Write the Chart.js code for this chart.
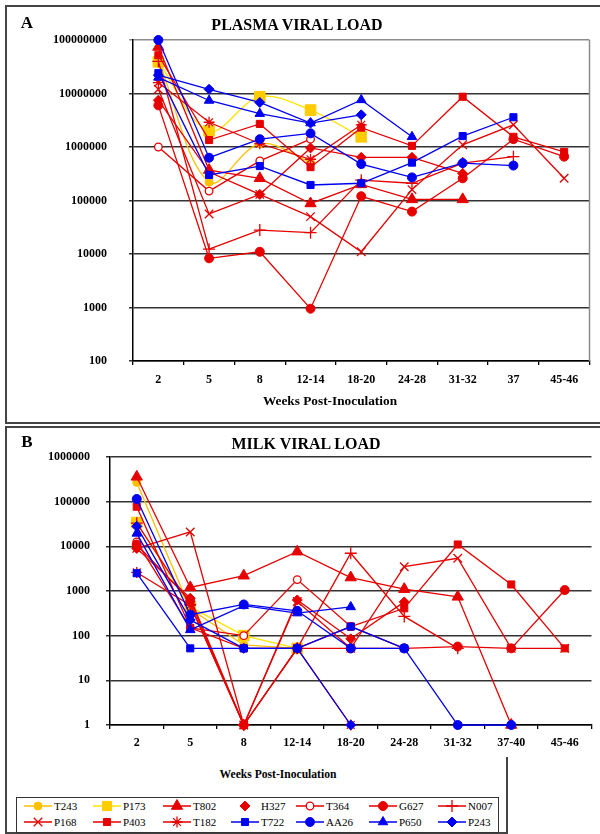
<!DOCTYPE html>
<html>
<head>
<meta charset="utf-8">
<script src="https://cdn.jsdelivr.net/npm/chart.js@4.4.1/dist/chart.umd.min.js"></script>
<style>
  body { margin: 0; background: #fff; }
  #page { position: relative; width: 600px; height: 834px; overflow: hidden; background: #fff;
          font-family: "Liberation Serif", "Times New Roman", serif; color: #000; }
  canvas { position: absolute; }
  .txt { position: absolute; white-space: nowrap; font-weight: bold; transform: translate(-50%, -50%); }
  .line { position: absolute; background: #444; }
  #legend { position: absolute; left: 16px; top: 797px; width: 483px; height: 36px;
            box-sizing: border-box; border: 1.5px solid #333; }
  .item { position: absolute; height: 14px; font-size: 11px; line-height: 14px; white-space: nowrap; }
  .item canvas { position: absolute; left: 0; top: 0; }
  .item span { position: absolute; left: 30px; top: 0; }
</style>
</head>
<body>
<div id="page">
  <!-- panel frames -->
  <div class="line" style="left:5px;top:5px;width:600px;height:2px;"></div>
  <div class="line" style="left:5px;top:5px;width:2px;height:419px;"></div>
  <div class="line" style="left:5px;top:422px;width:600px;height:2px;"></div>
  <div class="line" style="left:5px;top:426px;width:600px;height:2px;"></div>
  <div class="line" style="left:5px;top:426px;width:2px;height:408px;"></div>
  <div class="line" style="left:5px;top:832px;width:503px;height:2px;"></div>
  <div class="line" style="left:506px;top:757px;width:2px;height:77px;"></div>

  <canvas id="plasma" width="592" height="416" style="left:6px;top:6px;"></canvas>
  <canvas id="milk" width="594" height="330" style="left:6px;top:427px;"></canvas>

  <div class="txt" style="left:27px;top:23px;font-size:17px;">A</div>
  <div class="txt" style="left:297px;top:25px;font-size:16px;">PLASMA VIRAL LOAD</div>
  <div class="txt" style="left:330px;top:401px;font-size:13.3px;">Weeks Post-Inoculation</div>

  <div class="txt" style="left:27px;top:442px;font-size:17px;">B</div>
  <div class="txt" style="left:306px;top:444px;font-size:16px;">MILK VIRAL LOAD</div>
  <div class="txt" style="left:278px;top:774px;font-size:11.6px;">Weeks Post-Inoculation</div>

  <div id="legend"></div>
</div>

<script>
const names = ['T243', 'P173', 'T802', 'H327', 'T364', 'G627', 'N007',
               'P168', 'P403', 'T182', 'T722', 'AA26', 'P650', 'P243'];

const weeksPlasma = ['2', '5', '8', '12-14', '18-20', '24-28', '31-32', '37', '45-46'];
const weeksMilk = ['2', '5', '8', '12-14', '18-20', '24-28', '31-32', '37-40', '45-46'];
const ticksPlasma = [100, 1000, 10000, 100000, 1000000, 10000000, 100000000];
const ticksMilk = [1, 10, 100, 1000, 10000, 100000, 1000000];

// plasma viral load (copies/ml)
const plasmaT243 = [4.2e7, 2.2e5, 1.15e6, 5.2e5];
const plasmaP173 = [3.9e7, 2.0e6, 8.7e6, 4.9e6, 1.55e6];
const plasmaT802 = [7.4e7, 3.7e5, 2.6e5, 8.8e4, 2.0e5, 1.05e5, 1.05e5];
const plasmaH327 = [7.5e6, 3.4e5, 1.3e5, 9.6e5, 6.4e5, 6.4e5, 3.2e5];
const plasmaT364 = [1.0e6, 1.5e5, 5.5e5, 1.4e6];
const plasmaG627 = [6.0e6, 8.3e3, 1.1e4, 950, 1.2e5, 6.2e4, 2.6e5, 1.4e6, 6.6e5];
const plasmaN007 = [4.0e7, 1.23e4, 2.8e4, 2.5e4, 2.4e5, 2.1e5, 5.0e5, 6.6e5];
const plasmaP168 = [1.2e7, 5.6e4, 1.3e5, 5.0e4, 1.1e4, 1.6e5, 1.1e6, 2.6e6, 2.6e5];
const plasmaP403 = [5.2e7, 1.35e6, 2.7e6, 4.2e5, 2.3e6, 1.05e6, 8.7e6, 1.55e6, 8.1e5];
const plasmaT182 = [1.6e7, 2.9e6, 1.15e6, 5.9e5, 2.6e6];
const plasmaT722 = [2.4e7, 3.0e5, 4.4e5, 1.95e5, 2.1e5, 5.1e5, 1.6e6, 3.6e6];
const plasmaAA26 = [1.0e8, 6.3e5, 1.4e6, 1.8e6, 4.8e5, 2.7e5, 5.0e5, 4.5e5];
const plasmaP650 = [2.0e7, 7.4e6, 4.2e6, 2.8e6, 7.6e6, 1.55e6];
const plasmaP243 = [2.2e7, 1.2e7, 6.8e6, 2.8e6, 4.0e6];

// milk viral load
const milkT243 = [2.7e5, 400, 62, 52];
const milkP173 = [3.4e4, 440, 100, 52];
const milkT802 = [3.6e5, 1200, 2200, 7600, 2000, 1100, 740, 1];
const milkH327 = [9000, 690, 1, 630, 85, 570];
const milkT364 = [1.26e4, 150, 100, 1800, 160, 52];
const milkG627 = [1.1e4, 600, 1, 52, 52, 52, 57, 52, 1050];
const milkN007 = [3.3e4, 500, 1, 52, 7000, 270, 52];
const milkP168 = [9000, 2.1e4, 1, 580, 52, 3500, 5400, 52, 52];
const milkP403 = [7.7e4, 150, 52, 52, 160, 410, 1.1e4, 1400, 52];
const milkT182 = [2600, 480, 1, 52, 1];
const milkT722 = [2500, 52, 52, 52, 160, 52];
const milkAA26 = [1.15e5, 295, 500, 360, 52, 52, 1, 1];
const milkP650 = [1.95e4, 135, 470, 320, 440];
const milkP243 = [2.8e4, 225, 52, 52, 1];

const plasmaSeries = [plasmaT243, plasmaP173, plasmaT802, plasmaH327, plasmaT364, plasmaG627, plasmaN007,
                      plasmaP168, plasmaP403, plasmaT182, plasmaT722, plasmaAA26, plasmaP650, plasmaP243];
const milkSeries = [milkT243, milkP173, milkT802, milkH327, milkT364, milkG627, milkN007,
                    milkP168, milkP403, milkT182, milkT722, milkAA26, milkP650, milkP243];

const RED = '#e60000', BLUE = '#0000f0', GOLD = '#ffc000', YEL = '#ffcc00';
const styles = [
  { color: GOLD, line: GOLD, fill: GOLD, style: 'circle', r: 4, bw: 1, smooth: true, legendLine: true },
  { color: YEL, line: '#ffe400', fill: YEL, style: 'rect', r: 7.5, bw: 1, smooth: true, legendLine: true },
  { color: RED, line: RED, fill: RED, style: 'triangle', r: 6.5, bw: 1, legendLine: true },
  { color: RED, line: RED, fill: RED, style: 'rectRot', r: 5, bw: 1, legendLine: false },
  { color: RED, line: RED, fill: '#fff', style: 'circle', r: 3.8, bw: 1.3, legendLine: true },
  { color: RED, line: RED, fill: RED, style: 'circle', r: 4.5, bw: 1, legendLine: true },
  { color: RED, line: RED, fill: RED, style: 'cross', r: 6, bw: 1.3, legendLine: true },
  { color: RED, line: RED, fill: RED, style: 'crossRot', r: 6, bw: 1.3, legendLine: true },
  { color: RED, line: RED, fill: RED, style: 'rect', r: 5, bw: 1, legendLine: true },
  { color: RED, line: RED, fill: RED, style: 'star', r: 5.5, bw: 1.3, legendLine: true },
  { color: BLUE, line: BLUE, fill: BLUE, style: 'rect', r: 5, bw: 1, legendLine: true },
  { color: BLUE, line: BLUE, fill: BLUE, style: 'circle', r: 4.5, bw: 1, legendLine: true },
  { color: BLUE, line: BLUE, fill: BLUE, style: 'triangle', r: 5.5, bw: 1, legendLine: true },
  { color: BLUE, line: BLUE, fill: BLUE, style: 'rectRot', r: 5, bw: 1, legendLine: true }
];

const FONT = '"Liberation Serif", "Times New Roman", serif';

// gray plot-area edge on the right of panel A
const framePlugin = {
  id: 'frame',
  afterDraw(chart, args, opts) {
    if (!opts || !opts.right) return;
    const a = chart.chartArea, ctx = chart.ctx;
    ctx.save();
    ctx.strokeStyle = '#8c8c8c';
    ctx.lineWidth = 1.5;
    ctx.beginPath();
    ctx.moveTo(a.right, a.top);
    ctx.lineTo(a.right, a.bottom);
    ctx.stroke();
    ctx.restore();
  }
};

function makeChart(id, labels, series, tickVals, opt) {
  const top = tickVals[tickVals.length - 1];
  const datasets = series.map((vals, i) => {
    const s = styles[i];
    return {
      label: names[i],
      data: vals,
      borderColor: s.line,
      borderWidth: 1.3,
      pointStyle: s.style,
      pointRadius: s.r,
      pointBorderColor: s.color,
      pointBackgroundColor: s.fill,
      pointBorderWidth: s.bw,
      tension: opt.smooth && s.smooth ? 0.35 : 0,
      clip: false,
      order: names.length - i
    };
  });

  return new Chart(document.getElementById(id), {
    type: 'line',
    data: { labels: labels, datasets: datasets },
    options: {
      responsive: false,
      animation: false,
      layout: { padding: { top: opt.padTop, right: opt.padRight, left: 0, bottom: 0 } },
      plugins: {
        legend: { display: false },
        tooltip: { enabled: false },
        frame: { right: opt.frame }
      },
      scales: {
        x: {
          offset: true,
          grid: { offset: true, drawOnChartArea: false, drawTicks: true, tickLength: 4, color: '#000', lineWidth: 1.3 },
          border: { color: '#000', width: 1.5 },
          ticks: { color: '#000', padding: opt.xPad, maxRotation: 0, autoSkip: false,
                   font: { family: FONT, size: 12, weight: 'bold' } },
          afterFit: s => { s.height = opt.xH; }
        },
        y: {
          type: 'logarithmic',
          min: tickVals[0],
          max: top,
          afterBuildTicks: s => { s.ticks = tickVals.map(v => ({ value: v })); },
          grid: {
            lineWidth: 1.5,
            tickLength: 4,
            color: c => (opt.frame && c.tick && c.tick.value === top) ? '#8c8c8c' : '#333'
          },
          border: { color: '#000', width: 1.5 },
          ticks: { color: '#000', padding: opt.yPad, callback: v => Number(v).toFixed(0),
                   font: { family: FONT, size: 12, weight: 'bold' } },
          afterFit: s => { s.width = opt.yW; }
        }
      }
    },
    plugins: [framePlugin]
  });
}

makeChart('plasma', weeksPlasma, plasmaSeries, ticksPlasma,
  { padTop: 34, padRight: 5, yW: 127, xH: 61, xPad: 8, yPad: 22, frame: true, smooth: true });
makeChart('milk', weeksMilk, milkSeries, ticksMilk,
  { padTop: 30, padRight: 3, yW: 104, xH: 32, xPad: 7, yPad: 16, frame: false, smooth: false });

// legend: 7 columns x 2 rows, line + marker icons
const legendCols = [7, 76, 146, 214, 279, 352, 421];
const legend = document.getElementById('legend');
names.forEach((name, i) => {
  const s = styles[i];
  const item = document.createElement('div');
  item.className = 'item';
  item.style.left = legendCols[i % 7] + 'px';
  item.style.top = (i < 7 ? 1 : 17) + 'px';
  const c = document.createElement('canvas');
  c.width = 28; c.height = 14;
  const g = c.getContext('2d');
  if (s.legendLine) {
    g.strokeStyle = s.line; g.lineWidth = 1.5;
    g.beginPath(); g.moveTo(0, 7); g.lineTo(28, 7); g.stroke();
  }
  g.fillStyle = s.fill; g.strokeStyle = s.color; g.lineWidth = s.bw;
  if (Chart.helpers && Chart.helpers.drawPoint) {
    Chart.helpers.drawPoint(g, { pointStyle: s.style, radius: Math.min(s.r, 6.5), borderWidth: s.bw, rotation: 0 }, 14, 7);
  }
  item.appendChild(c);
  const t = document.createElement('span');
  t.textContent = name;
  item.appendChild(t);
  legend.appendChild(item);
});
</script>
</body>
</html>
